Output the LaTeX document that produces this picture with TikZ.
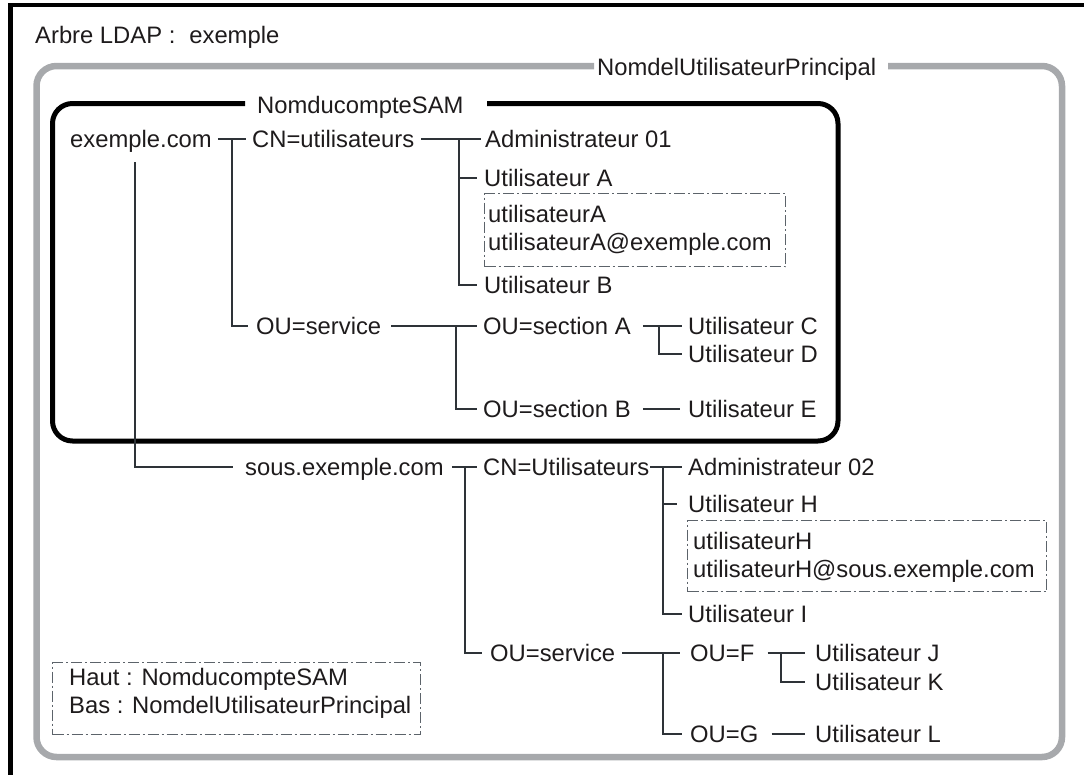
\documentclass[tikz,border=0pt]{standalone}
\usepackage{fontspec}
\setmainfont{Liberation Sans}
\usetikzlibrary{calc}
\definecolor{txt}{HTML}{1E1B1C}
\definecolor{lnc}{HTML}{2E3338}
\definecolor{grayframe}{HTML}{A7A9AC}
\definecolor{dashc}{HTML}{5C636A}
\tikzset{
  lbl/.style={anchor=base west, inner sep=0pt, text height=16pt, text depth=0pt, text=txt,
    font=\fontsize{23.8}{28}\selectfont},
  conn/.style={draw=lnc, line width=1.2pt},
  dashbox/.style={draw=dashc, line width=1.3pt, dash pattern=on 11pt off 3pt on 2pt off 3pt,
    inner sep=0pt, anchor=north west},
}
\begin{document}
\begin{tikzpicture}[x=1pt,y=-1pt]
\useasboundingbox (0,0) rectangle (1084,774);
% outer frame (cut at right and bottom)
\draw[line width=4.5pt] (10.5,5) rectangle (1110,800);
% frames
\draw[grayframe, line width=6.5pt, rounded corners=20pt]
  (888,66) -- (1062,66) -- (1062,757) -- (36.5,757) -- (36.5,66) -- (594,66);
\draw[black, line width=5pt, rounded corners=20pt]
  (487,103.5) -- (838,103.5) -- (838,441) -- (52.5,441) -- (52.5,103.5) -- (245,103.5);

% titles
\node[lbl] (arbre) at (35,43) {Arbre LDAP :\hspace{14pt}exemple};
\node[lbl] (upn) at (597,75) {NomdelUtilisateurPrincipal};
\node[lbl] (sam) at (257,113) {NomducompteSAM};

% first domain
\node[lbl] (exc)  at (70,147)  {exemple.com};
\node[lbl] (cnu)  at (252,147) {CN=utilisateurs};
\node[lbl] (adm1) at (485,147) {Administrateur 01};
\node[lbl] (ua)   at (484,186) {Utilisateur A};
\node[dashbox, minimum width=301pt, minimum height=73pt] (boxa) at (484,193) {};
\node[lbl] (uas)  at (488,222) {utilisateurA};
\node[lbl] (uap)  at (488,250) {utilisateurA@exemple.com};
\node[lbl] (ub)   at (484,293) {Utilisateur B};
\node[lbl] (ous)  at (256,334) {OU=service};
\node[lbl] (seca) at (483,334) {OU=section A};
\node[lbl] (uc)   at (688,334) {Utilisateur C};
\node[lbl] (ud)   at (688,362) {Utilisateur D};
\node[lbl] (secb) at (483,417) {OU=section B};
\node[lbl] (ue)   at (688,417) {Utilisateur E};

% sub domain
\node[lbl] (sous) at (245,475) {sous.exemple.com};
\node[lbl] (cnu2) at (483,475) {CN=Utilisateurs};
\node[lbl] (adm2) at (688,475) {Administrateur 02};
\node[lbl] (uh)   at (688,512) {Utilisateur H};
\node[dashbox, minimum width=359pt, minimum height=71pt] (boxh) at (687,520) {};
\node[lbl] (uhs)  at (693,549) {utilisateurH};
\node[lbl] (uhp)  at (693,577) {utilisateurH@sous.exemple.com};
\node[lbl] (ui)   at (688,622) {Utilisateur I};
\node[lbl] (ous2) at (490,661) {OU=service};
\node[lbl] (ouf)  at (690,661) {OU=F};
\node[lbl] (uj)   at (815,661) {Utilisateur J};
\node[lbl] (uk)   at (815,690) {Utilisateur K};
\node[lbl] (oug)  at (690,742) {OU=G};
\node[lbl] (ul)   at (815,742) {Utilisateur L};

% legend
\node[dashbox, minimum width=368pt, minimum height=72pt] (legend) at (52,662) {};
\node[lbl] (haut) at (69,685) {Haut : NomducompteSAM};
\node[lbl] (bas)  at (69,713) {Bas : NomdelUtilisateurPrincipal};

% junctions
\coordinate (j1) at (232,139);
\coordinate (j3) at (459,139);
\coordinate (j4) at (456,326);
\coordinate (j5) at (659,326);
\coordinate (j6) at (465,467);
\coordinate (j7) at (663,467);
\coordinate (j8) at (663,653);
\coordinate (j9) at (781,653);

% connectors
\draw[conn] ($(exc.east)+(6,0)$) -- ($(cnu.west)+(-6,0)$);
\draw[conn] (j1) |- ($(ous.west)+(-8,0)$);
\draw[conn] ($(exc.south)+(-6,15)$) |- ($(sous.west)+(-12,0)$);
\draw[conn] ($(cnu.east)+(7,0)$) -- ($(adm1.west)+(-4,0)$);
\draw[conn] (j3) |- ($(ub.west)+(-7,0)$);
\draw[conn] (j3 |- ua.west) -- ($(ua.west)+(-7,0)$);
\draw[conn] ($(ous.east)+(10,0)$) -- ($(seca.west)+(-6,0)$);
\draw[conn] (j4) |- ($(secb.west)+(-6,0)$);
\draw[conn] ($(seca.east)+(12,0)$) -- ($(uc.west)+(-6,0)$);
\draw[conn] (j5) |- ($(ud.west)+(-6,0)$);
\draw[conn] ($(secb.east)+(12,0)$) -- ($(ue.west)+(-8,0)$);
\draw[conn] ($(sous.east)+(8,0)$) -- ($(cnu2.west)+(-6,0)$);
\draw[conn] (j6) |- ($(ous2.west)+(-8,0)$);
\draw[conn] ($(cnu2.east)+(1,0)$) -- ($(adm2.west)+(-6,0)$);
\draw[conn] (j7) |- ($(ui.west)+(-6,0)$);
\draw[conn] (j7 |- uh.west) -- ($(uh.west)+(-11,0)$);
\draw[conn] ($(ous2.east)+(7,0)$) -- ($(ouf.west)+(-10,0)$);
\draw[conn] (j8) |- ($(oug.west)+(-8,0)$);
\draw[conn] ($(ouf.east)+(13,0)$) -- ($(uj.west)+(-10,0)$);
\draw[conn] (j9) |- ($(uk.west)+(-10,0)$);
\draw[conn] ($(oug.east)+(13,0)$) -- ($(ul.west)+(-10,0)$);
\end{tikzpicture}
\end{document}
